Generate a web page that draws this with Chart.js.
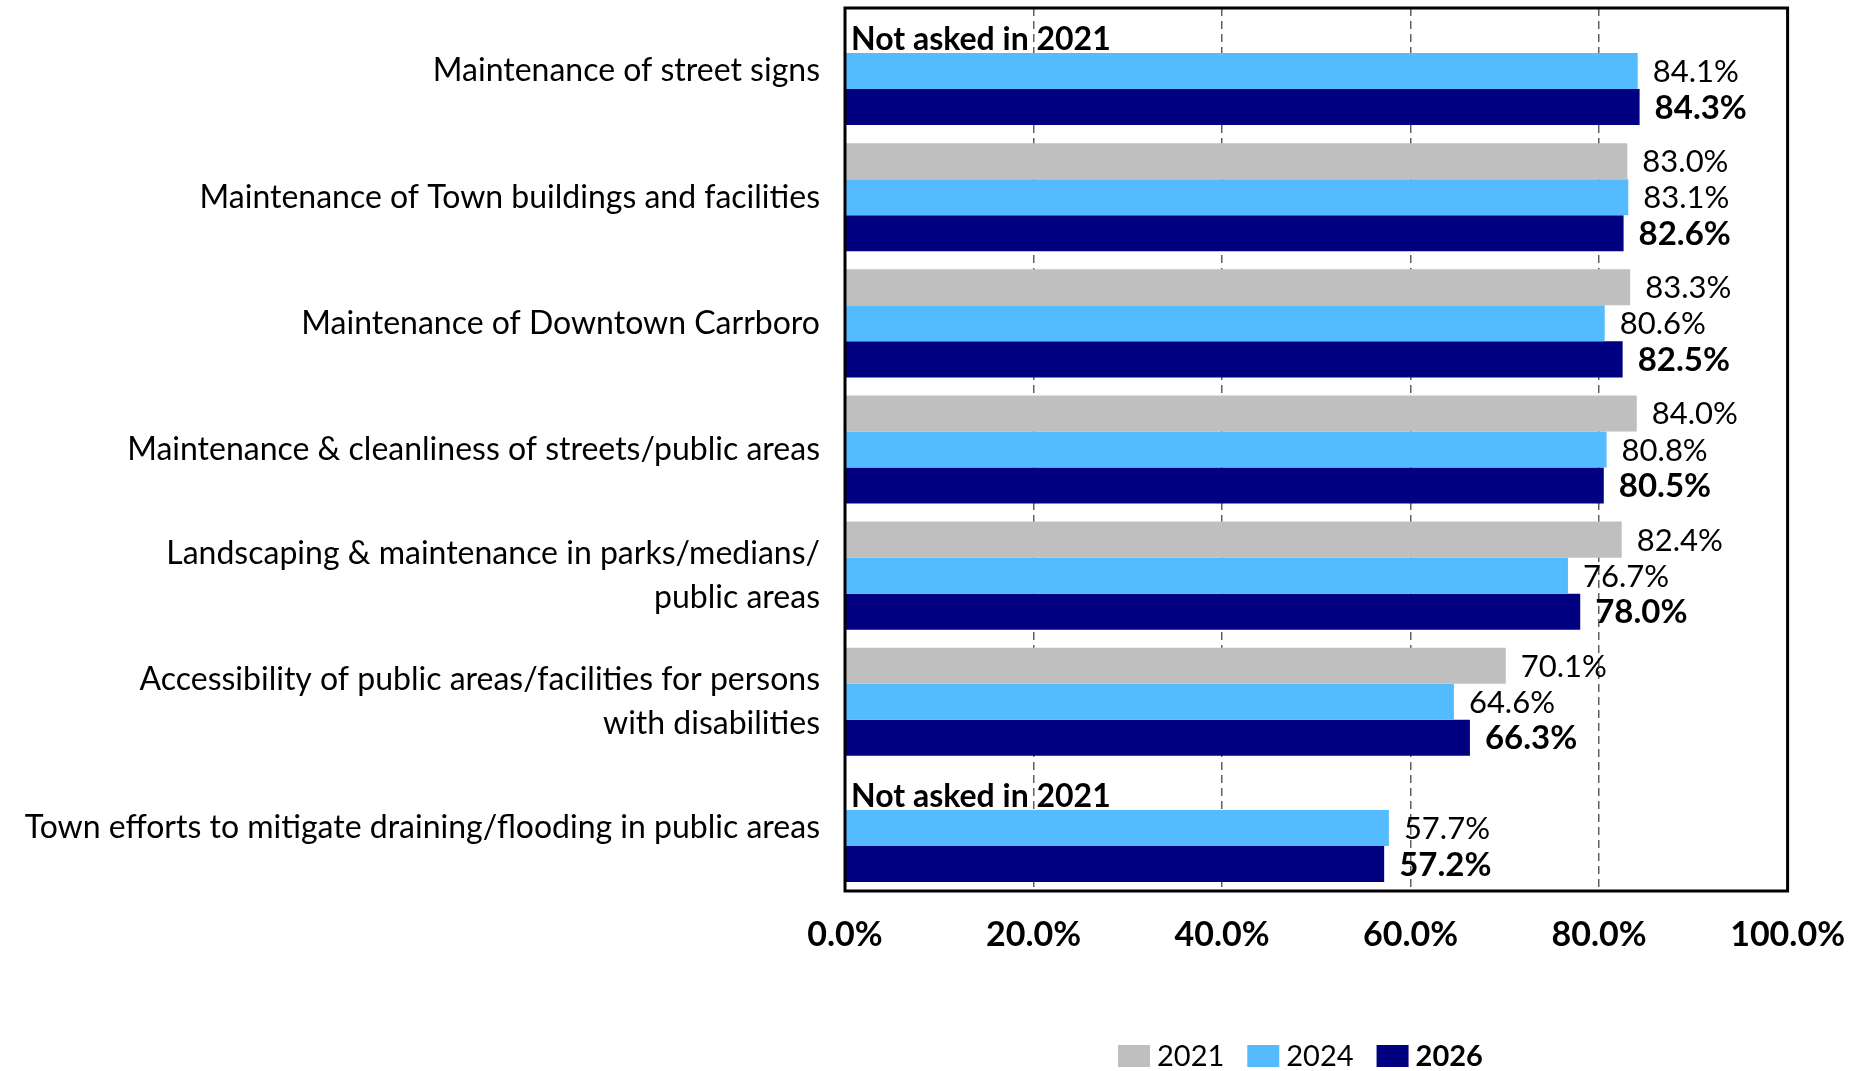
<!DOCTYPE html>
<html>
<head>
<meta charset="utf-8">
<script src="https://cdn.jsdelivr.net/npm/chart.js@4.4.1/dist/chart.umd.min.js"></script>
<style>
  html, body { margin: 0; padding: 0; background: #fff; }
</style>
</head>
<body>
<canvas id="chart" width="1869" height="1071"></canvas>
<script>
const categories = [
  "Maintenance of street signs",
  "Maintenance of Town buildings and facilities",
  "Maintenance of Downtown Carrboro",
  "Maintenance & cleanliness of streets/public areas",
  ["Landscaping & maintenance in parks/medians/", "public areas"],
  ["Accessibility of public areas/facilities for persons", "with disabilities"],
  "Town efforts to mitigate draining/flooding in public areas"
];
const years = ["2021", "2024", "2026"];
const values2021 = [null, 83.0, 83.3, 84.0, 82.4, 70.1, null];
const values2024 = [84.1, 83.1, 80.6, 80.8, 76.7, 64.6, 57.7];
const values2026 = [84.3, 82.6, 82.5, 80.5, 78.0, 66.3, 57.2];
const xTickStep = 20;
const notAskedText = "Not asked in 2021";

const colors = ['#BFBFBF', '#55BBFF', '#000080'];
const boldYear = [false, false, true];
const baseFont = 'Lato, "Open Sans", sans-serif';

// black frame round the plot
const framePlugin = {
  id: 'frame',
  afterDraw(chart) {
    const a = chart.chartArea, ctx = chart.ctx;
    ctx.save();
    ctx.strokeStyle = '#000';
    ctx.lineWidth = 3;
    ctx.strokeRect(a.left, a.top, a.right - a.left, a.bottom - a.top);
    ctx.restore();
  }
};

// value labels at the end of every bar, plus the "not asked" notes
const labelPlugin = {
  id: 'barLabels',
  afterDatasetsDraw(chart) {
    const ctx = chart.ctx;
    ctx.save();
    ctx.fillStyle = '#000';
    ctx.textBaseline = 'middle';
    ctx.textAlign = 'left';
    chart.data.datasets.forEach((ds, d) => {
      const meta = chart.getDatasetMeta(d);
      ctx.font = boldYear[d] ? 'bold 33px ' + baseFont : '31px ' + baseFont;
      meta.data.forEach((el, i) => {
        const v = ds.data[i];
        if (v === null) return;
        ctx.fillText(v.toFixed(1) + '%', el.x + 15, el.y + 1);
      });
    });
    // note where 2021 was not asked
    const meta24 = chart.getDatasetMeta(1);
    ctx.font = 'bold 32px ' + baseFont;
    ctx.textBaseline = 'alphabetic';
    values2021.forEach((v, i) => {
      if (v !== null) return;
      const el = meta24.data[i];
      ctx.fillText(notAskedText, chart.chartArea.left + 6, el.y - el.height / 2 - 3);
    });
    ctx.restore();
  }
};

// legend below the axis, 2026 in bold
const legendPlugin = {
  id: 'customLegend',
  afterDraw(chart) {
    const ctx = chart.ctx;
    ctx.save();
    let x = chart.chartArea.left + 273;
    const y = 1045;
    years.forEach((yr, d) => {
      ctx.fillStyle = colors[d];
      ctx.fillRect(x, y, 32, 22);
      ctx.font = (boldYear[d] ? 'bold ' : '') + '29px ' + baseFont;
      ctx.fillStyle = '#000';
      ctx.textBaseline = 'middle';
      ctx.fillText(yr, x + 39, y + 12);
      x += 39 + ctx.measureText(yr).width + 23;
    });
    ctx.restore();
  }
};

new Chart(document.getElementById('chart'), {
  type: 'bar',
  data: {
    labels: categories,
    datasets: [
      { label: years[0], data: values2021, backgroundColor: colors[0] },
      { label: years[1], data: values2024, backgroundColor: colors[1] },
      { label: years[2], data: values2026, backgroundColor: colors[2] }
    ]
  },
  options: {
    indexAxis: 'y',
    responsive: false,
    animation: false,
    layout: { padding: { top: 8, right: 78, left: 0, bottom: 0 } },
    datasets: { bar: { barPercentage: 1, categoryPercentage: 0.857 } },
    plugins: {
      legend: { display: false },
      tooltip: { enabled: false }
    },
    scales: {
      x: {
        min: 0,
        max: 100,
        ticks: {
          stepSize: xTickStep,
          callback: v => v.toFixed(1) + '%',
          color: '#000',
          padding: 24,
          font: { family: baseFont, size: 34, weight: 'bold' }
        },
        grid: {
          drawTicks: false,
          lineWidth: 1.5,
          color: ctx => (ctx.tick && (ctx.tick.value === 0 || ctx.tick.value === 100)) ? 'rgba(0,0,0,0)' : '#606060'
        },
        border: { display: false, dash: [8, 5] },
        afterFit: s => { s.height = 180; }
      },
      y: {
        ticks: {
          color: '#000',
          padding: 25,
          font: { family: baseFont, size: 32, lineHeight: 1.35 }
        },
        grid: { display: false, drawTicks: false },
        border: { display: false },
        afterFit: s => { s.width = 845; s.paddingTop = 0; s.paddingBottom = 0; }
      }
    }
  },
  plugins: [framePlugin, labelPlugin, legendPlugin]
});
</script>
</body>
</html>
